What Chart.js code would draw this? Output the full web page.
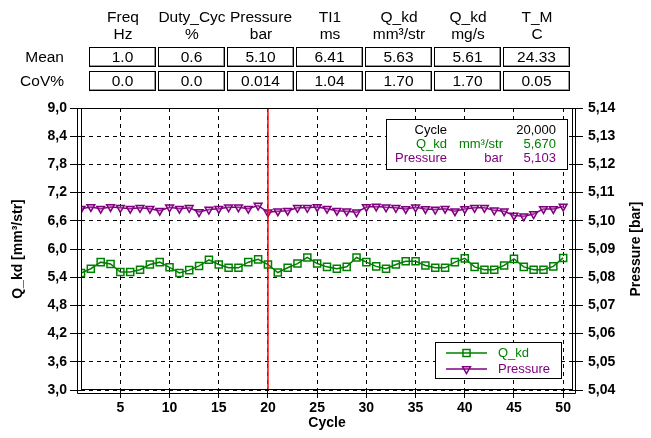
<!DOCTYPE html>
<html>
<head>
<meta charset="utf-8">
<script src="https://cdn.jsdelivr.net/npm/chart.js@4"></script>
<style>
  body { margin: 0; background: #fff; }
  #wrap { position: relative; width: 651px; height: 438px; font-family: "Liberation Sans", Arial, sans-serif; color: #000; }
  #chart { position: absolute; left: 0; top: 0; }
  .hdr { position: absolute; top: 8px; width: 90px; text-align: center; font-size: 15.5px; line-height: 17px; }
  .rowlbl { position: absolute; left: 0; width: 64px; text-align: right; font-size: 15.5px; line-height: 19px; }
  .cell { position: absolute; box-sizing: border-box; width: 67px; height: 20px; border: 1px solid #000;
          box-shadow: inset -1px -1px 0 #999; text-align: center; font-size: 15.5px; line-height: 18px; }
</style>
</head>
<body>
<div id="wrap">
  <canvas id="chart" width="651" height="438"></canvas>
  <div id="table"></div>
</div>
<script>
// summary table
const tableCols = ['Freq', 'Duty_Cyc', 'Pressure', 'TI1', 'Q_kd', 'Q_kd', 'T_M'];
const tableUnits = ['Hz', '%', 'bar', 'ms', 'mm³/str', 'mg/s', 'C'];
const meanRow = ['1.0', '0.6', '5.10', '6.41', '5.63', '5.61', '24.33'];
const covRow = ['0.0', '0.0', '0.014', '1.04', '1.70', '1.70', '0.05'];

// chart data
const cycles = [1, 2, 3, 4, 5, 6, 7, 8, 9, 10, 11, 12, 13, 14, 15, 16, 17, 18, 19, 20,
  21, 22, 23, 24, 25, 26, 27, 28, 29, 30, 31, 32, 33, 34, 35, 36, 37, 38, 39, 40,
  41, 42, 43, 44, 45, 46, 47, 48, 49, 50];
const qkd = [5.49, 5.58, 5.72, 5.68, 5.51, 5.51, 5.56, 5.67, 5.72, 5.61,
  5.49, 5.55, 5.64, 5.77, 5.67, 5.60, 5.60, 5.72, 5.78, 5.67,
  5.50, 5.60, 5.69, 5.82, 5.69, 5.62, 5.58, 5.62, 5.82, 5.72,
  5.63, 5.58, 5.67, 5.74, 5.74, 5.65, 5.60, 5.60, 5.72, 5.80,
  5.62, 5.56, 5.56, 5.65, 5.79, 5.62, 5.56, 5.56, 5.63, 5.81];
const pressure = [5.1043, 5.1049, 5.1043, 5.1049, 5.1046, 5.1043, 5.1046, 5.1043, 5.1036, 5.1048,
  5.1043, 5.1046, 5.1031, 5.1040, 5.1043, 5.1048, 5.1048, 5.1043, 5.1054, 5.1030,
  5.1034, 5.1036, 5.1046, 5.1046, 5.1049, 5.1043, 5.1036, 5.1034, 5.1030, 5.1049,
  5.1051, 5.1048, 5.1046, 5.1042, 5.1048, 5.1042, 5.1040, 5.1043, 5.1034, 5.1042,
  5.1046, 5.1046, 5.1037, 5.1034, 5.1019, 5.1016, 5.1024, 5.1042, 5.1042, 5.1051];
const cursorCycle = 20;

const xTicks = [5, 10, 15, 20, 25, 30, 35, 40, 45, 50];
const yLeftTicks = [3.0, 3.6, 4.2, 4.8, 5.4, 6.0, 6.6, 7.2, 7.8, 8.4, 9.0];
const yRightTicks = [5.04, 5.05, 5.06, 5.07, 5.08, 5.09, 5.10, 5.11, 5.12, 5.13, 5.14];

const GREEN = '#008000';
const PURPLE = '#800080';
const FAMILY = '"Liberation Sans", Arial, sans-serif';

// build the table above the chart
const table = document.getElementById('table');
const colLeft = 89, colStep = 69;
tableCols.forEach((name, i) => {
    const h = document.createElement('div');
    h.className = 'hdr';
    h.style.left = (colLeft + i * colStep + 34 - 45) + 'px';
    h.innerHTML = name + '<br>' + tableUnits[i];
    table.appendChild(h);
});
[['Mean', meanRow, 47], ['CoV%', covRow, 71]].forEach(([label, vals, top]) => {
    const l = document.createElement('div');
    l.className = 'rowlbl';
    l.style.top = top + 'px';
    l.textContent = label;
    table.appendChild(l);
    vals.forEach((v, i) => {
        const c = document.createElement('div');
        c.className = 'cell';
        c.style.left = (colLeft + i * colStep) + 'px';
        c.style.top = top + 'px';
        c.textContent = v;
        table.appendChild(c);
    });
});

const comma = (v, d) => v.toFixed(d).replace('.', ',');

// frame, right title, info box and legend
const decorPlugin = {
    id: 'decor',
    afterDraw(chart) {
        const ctx = chart.ctx;
        const a = chart.chartArea;
        ctx.save();
        ctx.strokeStyle = '#000';
        ctx.lineWidth = 1;
        ctx.strokeRect(a.left + 0.5, a.top + 0.5, a.right - a.left - 1, a.bottom - a.top - 1);
        ctx.beginPath();
        ctx.moveTo(a.left - 3.5, a.top);
        ctx.lineTo(a.left - 3.5, a.bottom + 3.5);
        ctx.lineTo(a.right + 2.5, a.bottom + 3.5);
        ctx.lineTo(a.right + 2.5, a.top);
        ctx.stroke();

        // right axis title, reading upward
        ctx.font = 'bold 14px ' + FAMILY;
        ctx.fillStyle = '#000';
        ctx.textAlign = 'center';
        ctx.textBaseline = 'middle';
        ctx.translate(636, (a.top + a.bottom) / 2);
        ctx.rotate(-Math.PI / 2);
        ctx.fillText('Pressure [bar]', 0, 0);
        ctx.restore();

        // cursor info box
        const idx = cycles.indexOf(cursorCycle);
        ctx.save();
        ctx.fillStyle = '#fff';
        ctx.fillRect(386, 119, 181, 50);
        ctx.strokeStyle = '#000';
        ctx.strokeRect(386.5, 119.5, 181, 50);
        ctx.font = '13px ' + FAMILY;
        ctx.textBaseline = 'middle';
        const rows = [
            ['Cycle', '', comma(cursorCycle, 3), '#000'],
            ['Q_kd', 'mm³/str', comma(qkd[idx], 3), GREEN],
            ['Pressure', 'bar', comma(pressure[idx], 3), PURPLE]
        ];
        rows.forEach((r, i) => {
            const y = 130 + i * 14;
            ctx.fillStyle = r[3];
            ctx.textAlign = 'right';
            ctx.fillText(r[0], 447, y);
            ctx.fillText(r[1], 503, y);
            ctx.fillText(r[2], 556, y);
        });

        // legend
        ctx.fillStyle = '#fff';
        ctx.fillRect(435, 342, 127, 37);
        ctx.strokeStyle = '#000';
        ctx.strokeRect(435.5, 342.5, 126, 36);
        ctx.font = '13px ' + FAMILY;
        const items = [
            ['Q_kd', GREEN, 'rect', 0, 5, 353],
            ['Pressure', PURPLE, 'triangle', 180, 4.5, 369]
        ];
        items.forEach(([text, col, style, rot, rad, y]) => {
            ctx.strokeStyle = col;
            ctx.lineWidth = 1.5;
            ctx.beginPath();
            ctx.moveTo(446, y);
            ctx.lineTo(487, y);
            ctx.stroke();
            ctx.fillStyle = 'rgba(0,0,0,0)';
            Chart.helpers.drawPoint(ctx, { pointStyle: style, radius: rad, rotation: rot, borderWidth: 1.5 }, 466.5, y);
            ctx.fillStyle = col;
            ctx.textAlign = 'left';
            ctx.fillText(text, 498, y);
        });
        ctx.restore();
    }
};

const fontTick = { family: FAMILY, size: 14, weight: 'bold' };

new Chart(document.getElementById('chart'), {
    type: 'line',
    data: {
        datasets: [{
            label: 'cursor',
            data: [{ x: cursorCycle, y: yLeftTicks[0] }, { x: cursorCycle, y: yLeftTicks[yLeftTicks.length - 1] }],
            borderColor: '#ff0000',
            borderWidth: 1.5,
            pointRadius: 0,
            yAxisID: 'y',
            order: 0
        }, {
            label: 'Q_kd',
            data: cycles.map((c, i) => ({ x: c, y: qkd[i] })),
            borderColor: GREEN,
            borderWidth: 1.5,
            pointStyle: 'rect',
            pointRadius: 5,
            pointBorderWidth: 1.5,
            pointBackgroundColor: 'rgba(0,0,0,0)',
            pointBorderColor: GREEN,
            yAxisID: 'y',
            order: 2
        }, {
            label: 'Pressure',
            data: cycles.map((c, i) => ({ x: c, y: pressure[i] })),
            borderColor: PURPLE,
            borderWidth: 1.5,
            pointStyle: 'triangle',
            pointRotation: 180,
            pointRadius: 4.5,
            pointBorderWidth: 1.5,
            pointBackgroundColor: 'rgba(200,120,200,0.35)',
            pointBorderColor: PURPLE,
            yAxisID: 'y1',
            order: 1
        }]
    },
    options: {
        responsive: false,
        animation: false,
        layout: { padding: { top: 108 } },
        plugins: {
            legend: { display: false },
            tooltip: { enabled: false }
        },
        scales: {
            x: {
                type: 'linear',
                min: 1,
                max: 51,
                afterBuildTicks: s => { s.ticks = xTicks.map(v => ({ value: v })); },
                afterFit: s => { s.height = 48; },
                grid: { color: '#000', tickLength: 8, tickColor: '#000' },
                border: { display: false, dash: [4, 4] },
                ticks: { color: '#000', font: fontTick, padding: 2, maxRotation: 0 },
                title: { display: true, text: 'Cycle', color: '#000', font: fontTick, padding: { top: 0, bottom: 6 } }
            },
            y: {
                position: 'left',
                min: 3,
                max: 9,
                afterBuildTicks: s => { s.ticks = yLeftTicks.map(v => ({ value: v })); },
                afterFit: s => { s.width = 81; },
                grid: { color: '#000', tickLength: 11, tickColor: '#000' },
                border: { display: false, dash: [4, 4] },
                ticks: { color: '#000', font: fontTick, padding: 3, callback: v => comma(v, 1) },
                title: { display: true, text: 'Q_kd [mm³/str]', color: '#000', font: fontTick, padding: { top: 10, bottom: 0 } }
            },
            y1: {
                position: 'right',
                min: 5.04,
                max: 5.14,
                afterBuildTicks: s => { s.ticks = yRightTicks.map(v => ({ value: v })); },
                afterFit: s => { s.width = 78; },
                grid: { drawOnChartArea: false, color: '#000', tickLength: 10, tickColor: '#000' },
                border: { display: false },
                ticks: { color: '#000', font: fontTick, padding: 5, callback: v => comma(v, 2) }
            }
        }
    },
    plugins: [decorPlugin]
});
</script>
</body>
</html>
